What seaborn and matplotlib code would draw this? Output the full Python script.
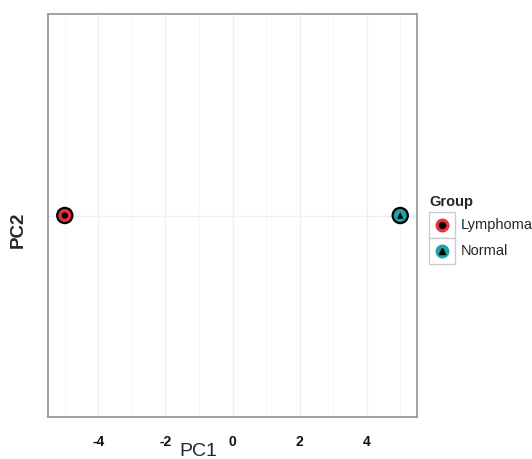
import seaborn as sns
import matplotlib.pyplot as plt
import matplotlib.lines as mlines
import matplotlib.patches as mpatches
import pandas as pd

# PCA scores for the two groups
groups = ["Lymphoma", "Normal"]
pc1 = [-5.0, 5.0]
pc2 = [0.0, 0.0]
group_colors = {"Lymphoma": "#E8303F", "Normal": "#1AA3A8"}
inner_markers = {"Lymphoma": "o", "Normal": "^"}

df = pd.DataFrame({"PC1": pc1, "PC2": pc2, "Group": groups})

sns.set_style("white")
plt.rcParams["font.family"] = ["Liberation Sans", "DejaVu Sans"]
plt.rcParams["axes.unicode_minus"] = False

W, H = 532, 459
fig = plt.figure(figsize=(5.32, 4.59), dpi=100)
ax = fig.add_axes([48 / W, 1 - 417 / H, 369 / W, 403 / H])

# coloured discs with black outline, then black inner symbols
sns.scatterplot(data=df, x="PC1", y="PC2", hue="Group", palette=group_colors,
                s=120, edgecolor="black", linewidth=1.6, legend=False, ax=ax, zorder=3)
sns.scatterplot(data=df, x="PC1", y="PC2", style="Group", markers=inner_markers,
                color="black", s=22, edgecolor="black", linewidth=0, legend=False,
                ax=ax, zorder=4)

ax.set_xlim(-5.5, 5.5)
ax.set_ylim(-1, 1)
ax.set_xticks([-4, -2, 0, 2, 4])
ax.set_xticks([-5, -3, -1, 1, 3, 5], minor=True)
ax.set_yticks([0])
ax.set_yticklabels([""])
ax.grid(True, which="major", color="#EDF0F0", linewidth=1.0)
ax.grid(True, which="minor", axis="x", color="#F5F7F7", linewidth=0.6)
ax.set_axisbelow(True)
for sp in ax.spines.values():
    sp.set_color("#999999")
    sp.set_linewidth(1.3)
ax.tick_params(axis="both", which="major", length=4, width=1.0, color="#999999",
               pad=9, labelsize=10, labelcolor="#111111")
ax.tick_params(axis="x", which="minor", length=0)
for lab in ax.get_xticklabels():
    lab.set_fontweight("bold")

ax.set_xlabel("")
ax.set_ylabel("")
fig.text(198 / W, 1 - 452 / H, "PC1", fontsize=14, ha="center", va="center")
fig.text(18 / W, 1 - 230 / H, "PC2", fontsize=13.5, fontweight="bold", rotation=90,
         ha="center", va="center")

# ggplot-style legend with boxed keys
fig.text(429 / W, 1 - 202 / H, "Group", fontsize=10.5, fontweight="bold", va="center", ha="left")
for i, g in enumerate(groups):
    top = 212 + i * 26
    fig.patches.append(mpatches.Rectangle((429 / W, 1 - (top + 26) / H), 26 / W, 26 / H,
                                          transform=fig.transFigure, facecolor="white",
                                          edgecolor="#CCCCCC", linewidth=1.0))
    cy = 1 - (top + 13) / H
    fig.lines.append(mlines.Line2D([442 / W], [cy], marker="o", markersize=9,
                                   markerfacecolor=group_colors[g], markeredgecolor=group_colors[g],
                                   linestyle="none", transform=fig.transFigure))
    fig.lines.append(mlines.Line2D([442 / W], [cy], marker=inner_markers[g], markersize=4.2,
                                   markerfacecolor="black", markeredgecolor="black",
                                   linestyle="none", transform=fig.transFigure))
    fig.text(461 / W, cy, g, fontsize=10.5, va="center", ha="left")

fig.savefig("out.png", dpi=100)
